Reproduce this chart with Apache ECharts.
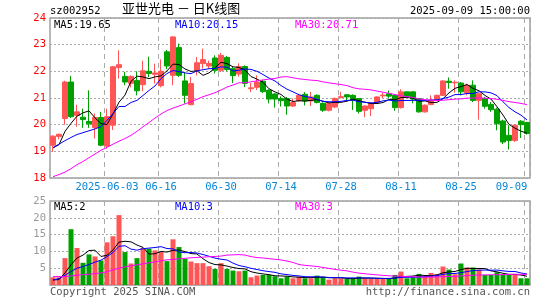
<!DOCTYPE html>
<html><head><meta charset="utf-8">
<script src="https://cdn.jsdelivr.net/npm/echarts@6/dist/echarts.min.js"></script>
<style>html,body{margin:0;padding:0;background:#fff}#c{width:545px;height:300px}</style>
</head><body><div id="c"></div>
<script>
const dates = ['2025-05-20','2025-05-21','2025-05-22','2025-05-23','2025-05-26','2025-05-27','2025-05-28','2025-05-29','2025-05-30','2025-06-03',
'2025-06-04','2025-06-05','2025-06-06','2025-06-09','2025-06-10','2025-06-11','2025-06-12','2025-06-13','2025-06-16','2025-06-17',
'2025-06-18','2025-06-19','2025-06-20','2025-06-23','2025-06-24','2025-06-25','2025-06-26','2025-06-27','2025-06-30','2025-07-01',
'2025-07-02','2025-07-03','2025-07-04','2025-07-07','2025-07-08','2025-07-09','2025-07-10','2025-07-11','2025-07-14','2025-07-15',
'2025-07-16','2025-07-17','2025-07-18','2025-07-21','2025-07-22','2025-07-23','2025-07-24','2025-07-25','2025-07-28','2025-07-29',
'2025-07-30','2025-07-31','2025-08-01','2025-08-04','2025-08-05','2025-08-06','2025-08-07','2025-08-08','2025-08-11','2025-08-12',
'2025-08-13','2025-08-14','2025-08-15','2025-08-18','2025-08-19','2025-08-20','2025-08-21','2025-08-22','2025-08-25','2025-08-26',
'2025-08-27','2025-08-28','2025-08-29','2025-09-01','2025-09-02','2025-09-03','2025-09-04','2025-09-05','2025-09-08','2025-09-09'];

const opens = [19.23,19.56,20.23,21.60,20.35,20.28,20.12,19.89,20.27,19.20,
19.98,22.14,21.81,21.55,21.66,21.50,22.00,21.89,21.46,22.73,
21.85,22.89,21.64,20.75,22.04,22.29,22.20,22.50,22.04,22.52,
22.10,21.90,22.18,21.35,21.40,21.63,21.29,21.15,20.98,20.98,
20.70,20.90,21.14,20.89,21.10,20.80,20.54,20.66,21.02,21.12,
21.10,20.98,20.54,20.60,20.82,21.08,21.16,21.10,20.64,21.23,
21.23,20.98,20.48,20.76,20.91,21.10,21.63,21.57,21.56,21.19,
21.48,20.91,20.98,20.76,20.58,20.14,19.60,19.41,20.13,20.08];
const closes = [19.57,19.64,21.60,20.30,20.48,20.19,20.03,20.27,19.23,20.30,
22.17,22.25,21.60,21.81,21.27,22.02,21.92,21.94,22.00,22.20,
23.29,21.85,21.10,21.54,22.32,22.44,22.30,22.04,22.60,22.07,
21.84,22.18,21.55,21.38,21.60,21.24,20.96,20.96,20.90,20.70,
20.83,21.10,20.89,21.04,20.83,20.54,20.79,20.98,21.05,21.04,
20.92,20.50,20.70,20.80,21.04,21.11,21.07,20.64,21.23,21.06,
20.96,20.48,20.73,20.91,21.10,21.64,21.58,21.59,21.23,21.48,
20.91,21.16,20.69,20.56,20.04,19.35,19.41,19.98,20.00,19.67];
const lows = [18.98,19.45,20.00,20.25,19.92,19.88,19.88,19.48,19.19,19.10,
19.80,21.73,21.48,21.40,21.10,21.25,21.78,21.54,21.40,22.08,
21.48,21.79,20.79,20.73,21.85,22.10,22.10,21.92,21.98,22.00,
21.56,21.80,21.41,21.22,21.30,21.18,20.80,20.64,20.68,20.37,
20.66,20.86,20.72,20.70,20.80,20.48,20.50,20.62,20.98,20.88,
20.55,20.42,20.28,20.32,20.80,21.00,20.98,20.52,20.60,21.00,
20.80,20.45,20.45,20.73,20.89,21.08,21.35,21.20,21.10,21.10,
20.85,20.19,20.60,20.48,19.79,19.27,19.07,19.35,19.50,19.63];
const highs = [19.60,19.66,21.65,21.83,20.75,20.60,21.29,20.42,20.48,20.60,
22.20,22.79,21.98,21.85,22.00,22.40,22.55,22.29,22.45,22.80,
23.32,23.04,21.98,21.79,22.54,22.85,22.40,22.60,22.69,22.58,
22.16,22.30,22.22,21.57,21.85,21.68,21.33,21.18,21.06,21.04,
20.98,21.16,21.22,21.23,21.14,20.84,20.82,21.02,21.23,21.15,
21.14,21.00,20.72,20.84,21.06,21.20,21.28,21.12,21.33,21.24,
21.24,21.00,20.76,21.10,21.12,21.66,21.77,21.66,21.60,21.54,
21.66,21.18,21.04,20.85,20.64,20.19,19.98,20.00,20.17,20.11];
const volumes = [2.3,2.3,8.0,16.6,11.0,6.6,9.1,8.5,7.3,12.7,
14.5,20.8,9.8,6.4,8.0,11.0,10.8,10.3,9.8,7.1,
13.6,11.3,7.8,7.0,6.5,6.5,5.6,4.8,6.5,4.8,
4.3,4.1,4.3,2.3,2.8,3.0,3.0,2.6,2.0,2.5,
2.0,2.5,2.0,2.0,2.8,2.4,1.6,2.0,2.0,1.8,
2.0,2.5,2.0,1.8,1.8,1.8,2.0,3.0,4.0,2.0,
2.3,3.3,2.6,3.6,3.2,5.5,4.6,3.2,6.4,5.2,
5.2,4.6,3.0,3.0,3.8,3.0,3.0,3.0,2.0,2.0];

// moving-average values at the left edge (earlier history is off-chart)
const ma5Head = [19.13,19.25,19.75,20.05];
const ma10Head = [19.14,19.27,19.40,19.52,19.63,19.70,19.77,19.84,19.93];
const ma30Head = [18.05,18.13,18.22,18.35,18.50,18.62,18.76,18.90,19.04,19.15,19.27,19.38,19.48,19.60,19.75,19.92,20.08,20.25,20.40,20.53,20.62,20.70,20.78,20.86,20.95,21.05,21.12,21.20,21.30];
const volMa5Head = [1.5,1.6,3.6,6.0];
const volMa10Head = [1.5,1.9,2.9,4.0,5.0,5.5,6.1,6.8,7.4];
const volMa30Head = [2.5,2.5,2.5,2.7,2.9,3.1,3.2,3.4,3.6,3.9,4.5,5.0,5.4,5.7,6.0,6.3,6.6,6.9,7.2,7.5,7.6,7.8,7.95,8.1,8.2,8.3,8.4,8.5,8.6];

const tickDates = ['2025-06-03','2025-06-16','2025-06-30','2025-07-14','2025-07-28','2025-08-11','2025-08-25','2025-09-09'];
const tickLabels = ['2025-06-03','06-16','06-30','07-14','07-28','08-11','08-25','09-09'];
const priceTicks = [18,19,20,21,22,23,24];
const volTicks = [0,5,10,15,20,25];
const priceLegend = ['MA5:19.65','MA10:20.15','MA30:20.71'];
const volLegend = ['MA5:2','MA10:3','MA30:3'];

function movingAvg(vals, n, head) {
  return vals.map((v, i) => {
    if (i < n - 1) return head[i];
    let s = 0; for (let k = i - n + 1; k <= i; k++) s += vals[k];
    return +(s / n).toFixed(3);
  });
}
const UP = '#ff5555', DOWN = '#00a000';
const tickIdx = tickDates.map(d => dates.indexOf(d));
const kData = dates.map((d, i) => [opens[i], closes[i], lows[i], highs[i]]);
const volData = volumes.map((v, i) => ({value: v, itemStyle: {color: closes[i] >= opens[i] ? UP : DOWN}}));
const MONO = 'DejaVu Sans Mono';

const chart = echarts.init(document.getElementById('c'), null, {renderer: 'canvas'});
const xCommon = {
  type: 'category', data: dates, boundaryGap: true,
  axisLine: {show: false}, axisTick: {show: false},
  splitLine: {show: true, interval: (i) => tickIdx.includes(i), lineStyle: {color: '#aaa', type: [5, 4], width: 1}}
};
chart.setOption({
  animation: false,
  backgroundColor: '#fff',
  grid: [
    {left: 50, width: 480, top: 18, height: 160, show: true, borderColor: '#a0a0a0', borderWidth: 1.5, backgroundColor: 'transparent'},
    {left: 50, width: 480, top: 201, height: 84, show: true, borderColor: '#a0a0a0', borderWidth: 1.5, backgroundColor: 'transparent'}
  ],
  xAxis: [
    Object.assign({}, xCommon, {gridIndex: 0,
      axisLabel: {show: true, interval: (i) => tickIdx.includes(i), margin: 4, color: '#0a86d6', fontFamily: MONO, fontSize: 10.5,
        formatter: (v) => { const k = tickDates.indexOf(v); if (k < 0) return ''; return k === tickDates.length - 1 ? '{e|' + tickLabels[k] + '}' : tickLabels[k]; },
        rich: {e: {padding: [0, 31, 0, 0], color: '#0a86d6', fontFamily: MONO, fontSize: 10.5}}}}),
    Object.assign({}, xCommon, {gridIndex: 1, axisLabel: {show: false}})
  ],
  yAxis: [
    {gridIndex: 0, type: 'value', min: priceTicks[0], max: priceTicks[priceTicks.length - 1], interval: 1,
      axisLine: {show: false}, axisTick: {show: false},
      axisLabel: {color: '#ff0000', fontFamily: MONO, fontSize: 10.5, margin: 4},
      splitLine: {show: true, lineStyle: {color: '#aaa', type: [2, 2], width: 1}}},
    {gridIndex: 1, type: 'value', min: volTicks[0], max: volTicks[volTicks.length - 1], interval: 5,
      axisLine: {show: false}, axisTick: {show: false},
      axisLabel: {color: '#999', fontFamily: MONO, fontSize: 10.5, margin: 4, showMinLabel: false},
      splitLine: {show: true, lineStyle: {color: '#aaa', type: [2, 2], width: 1}}}
  ],
  series: [
    {type: 'candlestick', xAxisIndex: 0, yAxisIndex: 0, data: kData, barWidth: 5,
      itemStyle: {color: UP, color0: DOWN, borderColor: UP, borderColor0: DOWN, borderWidth: 1}},
    {type: 'line', xAxisIndex: 0, yAxisIndex: 0, data: movingAvg(closes, 5, ma5Head), symbol: 'none', lineStyle: {color: '#000', width: 1}},
    {type: 'line', xAxisIndex: 0, yAxisIndex: 0, data: movingAvg(closes, 10, ma10Head), symbol: 'none', lineStyle: {color: '#0000ff', width: 1}},
    {type: 'line', xAxisIndex: 0, yAxisIndex: 0, data: movingAvg(closes, 30, ma30Head), symbol: 'none', lineStyle: {color: '#ff00ff', width: 1}},
    {type: 'bar', xAxisIndex: 1, yAxisIndex: 1, data: volData, barWidth: 5},
    {type: 'line', xAxisIndex: 1, yAxisIndex: 1, data: movingAvg(volumes, 5, volMa5Head), symbol: 'none', lineStyle: {color: '#000', width: 1}},
    {type: 'line', xAxisIndex: 1, yAxisIndex: 1, data: movingAvg(volumes, 10, volMa10Head), symbol: 'none', lineStyle: {color: '#0000ff', width: 1}},
    {type: 'line', xAxisIndex: 1, yAxisIndex: 1, data: movingAvg(volumes, 30, volMa30Head), symbol: 'none', lineStyle: {color: '#ff00ff', width: 1}}
  ],
  graphic: [
    {type: 'text', left: 50, top: 6, style: {text: 'sz002952', font: '10.5px "DejaVu Sans Mono"', fill: '#000'}},
    {type: 'text', left: 122, top: 2, style: {text: '亚世光电 － 日K线图', font: '13px "Noto Sans CJK SC"', fill: '#000'}},
    {type: 'text', right: 15, top: 6, style: {text: '2025-09-09 15:00:00', font: '10.5px "DejaVu Sans Mono"', fill: '#000'}},
    {type: 'text', left: 54, top: 20, style: {text: priceLegend[0], font: '10.5px "DejaVu Sans Mono"', fill: '#000'}},
    {type: 'text', left: 175, top: 20, style: {text: priceLegend[1], font: '10.5px "DejaVu Sans Mono"', fill: '#0000ff'}},
    {type: 'text', left: 295, top: 20, style: {text: priceLegend[2], font: '10.5px "DejaVu Sans Mono"', fill: '#ff00ff'}},
    {type: 'text', left: 54, top: 202, style: {text: volLegend[0], font: '10.5px "DejaVu Sans Mono"', fill: '#000'}},
    {type: 'text', left: 175, top: 202, style: {text: volLegend[1], font: '10.5px "DejaVu Sans Mono"', fill: '#0000ff'}},
    {type: 'text', left: 295, top: 202, style: {text: volLegend[2], font: '10.5px "DejaVu Sans Mono"', fill: '#ff00ff'}},
    {type: 'text', left: 50, top: 287, style: {text: 'Copyright 2025 SINA.COM', font: '10.5px "DejaVu Sans Mono"', fill: '#555'}},
    {type: 'text', right: 15, top: 287, style: {text: 'http://finance.sina.com.cn', font: '10.5px "DejaVu Sans Mono"', fill: '#555'}}
  ]
});
</script></body></html>
